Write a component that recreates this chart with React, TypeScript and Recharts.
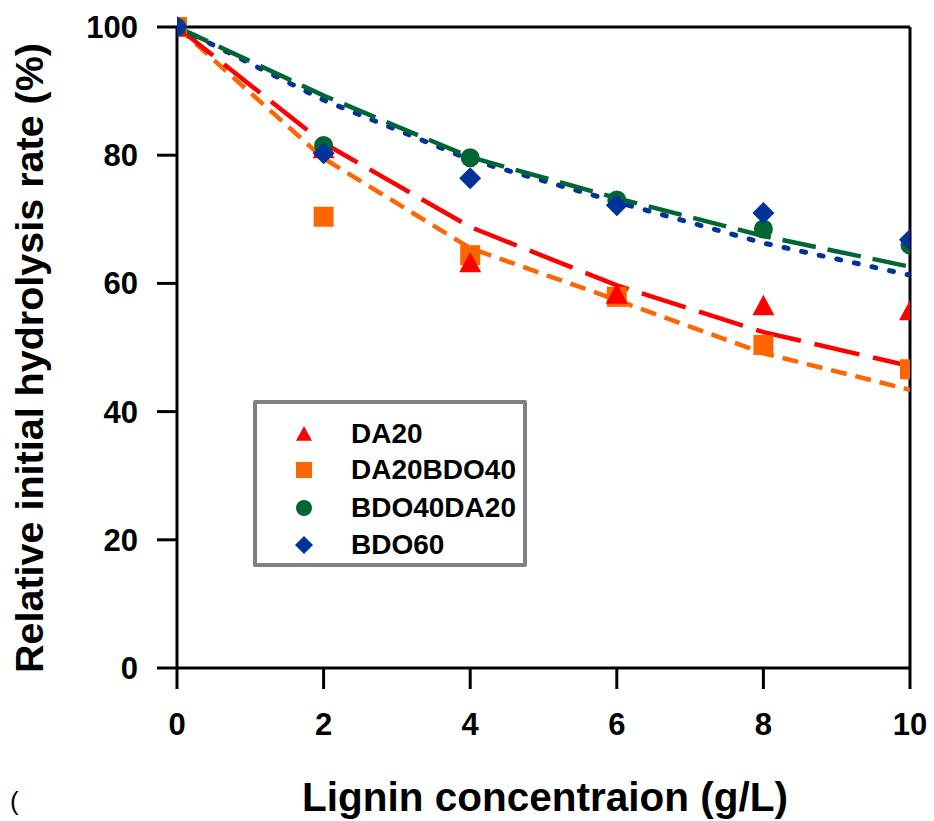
import React from "react";
import {
  ComposedChart,
  Line,
  Scatter,
  XAxis,
  YAxis,
  ReferenceLine,
  Label,
} from "recharts";

// lignin loading (g/L)
const lignin = [0, 2, 4, 6, 8, 10];
const yTicks = [0, 20, 40, 60, 80, 100];

// measured relative rates (%)
const da20 = [100, 81, 63.2, 58.3, 56.5, 55.7];
const da20bdo40 = [100, 70.4, 64.4, 57.9, 50.4, 46.6];
const bdo40da20 = [100, 81.5, 79.6, 73.0, 68.5, 66.0];
const bdo60 = [100, 80.3, 76.4, 72.2, 71.0, 66.8];

// model fits (%)
const da20Fit = [100, 81.9, 68.8, 59.7, 52.4, 47.1];
const da20bdo40Fit = [100, 79.5, 65.5, 57.4, 49.1, 43.4];
const bdo40da20Fit = [100, 89.3, 79.7, 73.3, 67.4, 62.6];
const bdo60Fit = [100, 88.6, 79.3, 72.7, 66.3, 61.3];

const toPoints = (vals: number[]) => lignin.map((x, i) => ({ x, y: vals[i] }));

const RED = "#FF0000";
const ORANGE = "#FF6600";
const GREEN = "#006633";
const BLUE = "#003399";
const FONT = "'Liberation Sans', Arial, sans-serif";

const triangle = (s: number, color: string) => (p: any) => (
  <path
    d={`M${p.cx},${p.cy - s} L${p.cx + s},${p.cy + s * 0.85} L${p.cx - s},${p.cy + s * 0.85} Z`}
    fill={color}
  />
);
const square = (s: number, color: string) => (p: any) => (
  <rect x={p.cx - s} y={p.cy - s} width={s * 2} height={s * 2} fill={color} />
);
const circle = (s: number, color: string) => (p: any) => (
  <circle cx={p.cx} cy={p.cy} r={s} fill={color} />
);
const diamond = (s: number, color: string) => (p: any) => (
  <path
    d={`M${p.cx},${p.cy - s} L${p.cx + s},${p.cy} L${p.cx},${p.cy + s} L${p.cx - s},${p.cy} Z`}
    fill={color}
  />
);

const legendItems = [
  { name: "DA20", shape: triangle(8, RED) },
  { name: "DA20BDO40", shape: square(8, ORANGE) },
  { name: "BDO40DA20", shape: circle(8, GREEN) },
  { name: "BDO60", shape: diamond(9, BLUE) },
];

const ChartLegend = () => (
  <div
    style={{
      position: "absolute",
      left: 253,
      top: 400,
      width: 274,
      height: 167,
      boxSizing: "border-box",
      border: "4px solid #808080",
      borderRadius: 2,
      background: "#fff",
    }}
  >
    {legendItems.map((item, i) => (
      <div
        key={item.name}
        style={{
          position: "absolute",
          left: 32,
          top: [12, 48, 86, 123][i],
          height: 36,
          display: "flex",
          alignItems: "center",
        }}
      >
        <svg width={30} height={30}>
          {item.shape({ cx: 15, cy: 15 })}
        </svg>
        <span
          style={{
            marginLeft: 32,
            fontFamily: FONT,
            fontWeight: "bold",
            fontSize: 28,
            color: "#000",
          }}
        >
          {item.name}
        </span>
      </div>
    ))}
  </div>
);

const tickStyle = {
  fill: "#000",
  fontSize: 31,
  fontWeight: "bold",
  fontFamily: FONT,
};

const App: React.FC = () => {
  return (
    <div style={{ position: "relative", width: 934, height: 821 }}>
      <style>{`body{margin:0}`}</style>
      <ComposedChart
        width={934}
        height={821}
        margin={{ top: 27, right: 24, left: 0, bottom: 0 }}
      >
        <XAxis
          type="number"
          dataKey="x"
          domain={[0, 10]}
          ticks={lignin}
          height={153}
          axisLine={{ stroke: "#000", strokeWidth: 3 }}
          tickLine={{ stroke: "#000", strokeWidth: 3 }}
          tickSize={21}
          tickMargin={24}
          tick={tickStyle}
          allowDataOverflow
        >
          <Label
            content={() => (
              <text
                x={545}
                y={811}
                textAnchor="middle"
                fontFamily={FONT}
                fontWeight="bold"
                fontSize={40.5}
                fill="#000"
              >
                Lignin concentraion (g/L)
              </text>
            )}
          />
        </XAxis>
        <YAxis
          type="number"
          dataKey="y"
          domain={[0, 100]}
          ticks={yTicks}
          width={177}
          axisLine={{ stroke: "#000", strokeWidth: 3 }}
          tickLine={{ stroke: "#000", strokeWidth: 3 }}
          tickSize={20}
          tickMargin={19}
          tick={tickStyle}
        >
          <Label
            content={() => (
              <text
                x={43}
                y={358}
                transform="rotate(-90 43 358)"
                textAnchor="middle"
                fontFamily={FONT}
                fontWeight="bold"
                fontSize={39.5}
                fill="#000"
              >
                Relative initial hydrolysis rate (%)
              </text>
            )}
          />
        </YAxis>
        <ReferenceLine y={100} stroke="#000" strokeWidth={3} />
        <ReferenceLine x={10} stroke="#000" strokeWidth={3} />

        <Scatter name="DA20BDO40" data={toPoints(da20bdo40)} shape={square(10, ORANGE)} isAnimationActive={false} />
        <Scatter name="DA20" data={toPoints(da20)} shape={triangle(11, RED)} isAnimationActive={false} />
        <Scatter name="BDO40DA20" data={toPoints(bdo40da20)} shape={circle(9.5, GREEN)} isAnimationActive={false} />
        <Scatter name="BDO60" data={toPoints(bdo60)} shape={diamond(11, BLUE)} isAnimationActive={false} />

        <Line
          data={toPoints(da20bdo40Fit)}
          dataKey="y"
          type="linear"
          stroke={ORANGE}
          strokeWidth={4.5}
          strokeDasharray="16 9"
          dot={false}
          activeDot={false}
          isAnimationActive={false}
        />
        <Line
          data={toPoints(da20Fit)}
          dataKey="y"
          type="linear"
          stroke={RED}
          strokeWidth={4.5}
          strokeDasharray="46 14"
          dot={false}
          activeDot={false}
          isAnimationActive={false}
        />
        <Line
          data={toPoints(bdo60Fit)}
          dataKey="y"
          type="linear"
          stroke={BLUE}
          strokeWidth={5}
          strokeDasharray="4 14"
          strokeLinecap="round"
          dot={false}
          activeDot={false}
          isAnimationActive={false}
        />
        <Line
          data={toPoints(bdo40da20Fit)}
          dataKey="y"
          type="linear"
          stroke={GREEN}
          strokeWidth={4.5}
          strokeDasharray="34 12"
          dot={false}
          activeDot={false}
          isAnimationActive={false}
        />
      </ComposedChart>
      <ChartLegend />
      <span
        style={{
          position: "absolute",
          left: 10,
          top: 786,
          fontFamily: FONT,
          fontSize: 26,
          fontWeight: 100,
          color: "#000",
        }}
      >
        (
      </span>
    </div>
  );
};

export default App;
